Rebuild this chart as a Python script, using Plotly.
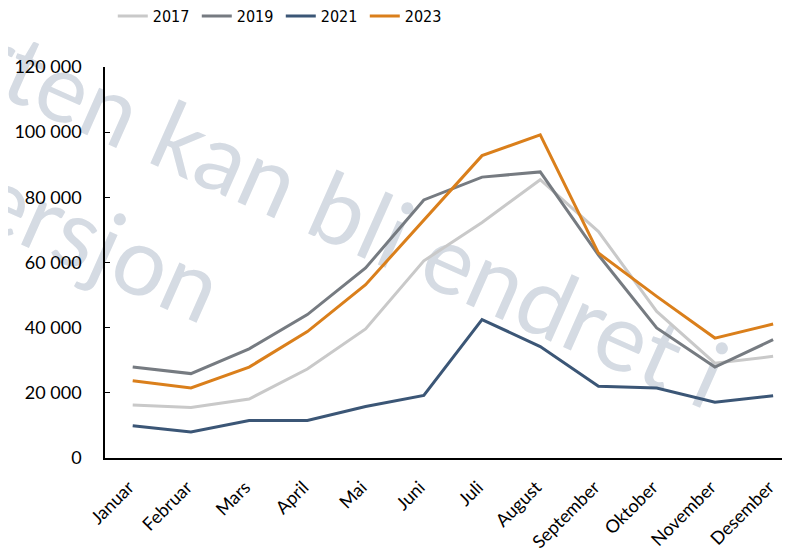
import plotly.graph_objects as go

# months (Norwegian) and monthly values per year
maaneder = ["Januar", "Februar", "Mars", "April", "Mai", "Juni", "Juli",
            "August", "September", "Oktober", "November", "Desember"]

y2017 = [16300, 15500, 18100, 27300, 39600, 60500, 72300, 85400, 69500, 45000, 29100, 31200]
y2019 = [27900, 25900, 33500, 44000, 58300, 79200, 86200, 87800, 62300, 39900, 27900, 36300]
y2021 = [9900, 8000, 11500, 11500, 15800, 19200, 42500, 34200, 22000, 21500, 17100, 19100]
y2023 = [23700, 21500, 27900, 38800, 53200, 73000, 92800, 99200, 62900, 49600, 36800, 41100]

serier = [
    ("2017", y2017, "#C9C9C9"),
    ("2019", y2019, "#767B81"),
    ("2021", y2021, "#3B5676"),
    ("2023", y2023, "#DA7F1B"),
]

fig = go.Figure()

for navn, verdier, farge in serier:
    fig.add_trace(
        go.Scatter(
            x=maaneder,
            y=verdier,
            mode="lines",
            name=navn,
            line=dict(color=farge, width=3),
        )
    )

# watermark, drawn below the lines as labels of invisible shapes
vannmerke = [
    ("Rapporten kan bli endret i", 0.182, 0.770),
    ("endelig versjon", -0.253, 0.754),
]
for tekst, cx, cy in vannmerke:
    fig.add_shape(
        type="rect", xref="paper", yref="paper",
        x0=cx - 0.01, x1=cx + 0.01, y0=cy - 0.01, y1=cy + 0.01,
        line=dict(width=0), fillcolor="rgba(0,0,0,0)", layer="below",
        label=dict(
            text=tekst, textangle=24, textposition="middle center",
            font=dict(family="Lato", size=95, color="#D5DBE3"),
        ),
    )

# page body has an 8 px margin, so the figure is 8 px smaller than the window
fig.update_layout(
    width=782,
    height=543,
    margin=dict(l=97, r=0, t=59, b=93, autoexpand=False),
    paper_bgcolor="white",
    plot_bgcolor="white",
    separators=", ",
    font=dict(family="Lato", size=17, color="black"),
    showlegend=True,
    legend=dict(
        orientation="h",
        xref="container", yref="container",
        x=0.134, y=0.985, xanchor="left", yanchor="middle",
        font=dict(family="DejaVu Sans Condensed", size=16),
        itemwidth=30,
        entrywidth=39, entrywidthmode="pixels",
    ),
    xaxis=dict(
        range=[-0.476, 11.29],
        showline=True, linecolor="black", linewidth=1.5,
        showgrid=False, ticks="", tickangle=-45,
        tickfont=dict(size=18), ticklabelstandoff=10, ticklabelshift=-4,
    ),
    yaxis=dict(
        range=[0, 120000],
        tickvals=[0, 20000, 40000, 60000, 80000, 100000, 120000],
        tickformat=",d",
        showline=True, linecolor="black", linewidth=1.5,
        showgrid=False, ticks="inside", ticklen=5, tickcolor="black",
        tickfont=dict(size=18), ticklabelstandoff=18,
        zeroline=False,
    ),
)

fig.write_html("out.html")
